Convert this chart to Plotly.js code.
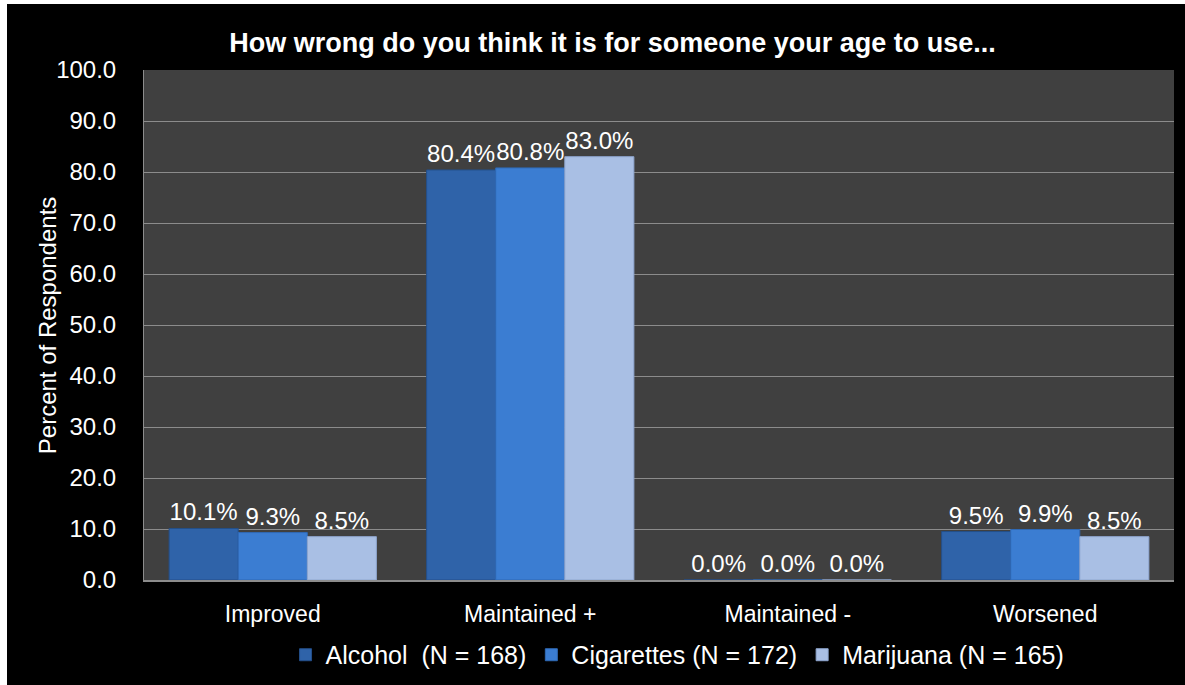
<!DOCTYPE html>
<html>
<head>
<meta charset="utf-8">
<script src="https://cdn.plot.ly/plotly-3.0.1.min.js"></script>
<style>
  html, body { margin: 0; padding: 0; background: #ffffff; width: 1185px; height: 685px; overflow: hidden; }
  #chart { position: absolute; left: 7px; top: 4px; width: 1178px; height: 681px; }
</style>
</head>
<body>
<div id="chart"></div>
<script>
const categories = ["Improved", "Maintained +", "Maintained -", "Worsened"];
const seriesNames = ["Alcohol  (N = 168)", "Cigarettes (N = 172)", "Marijuana (N = 165)"];
const alcohol = [10.1, 80.4, 0.0, 9.5];
const cigarettes = [9.3, 80.8, 0.0, 9.9];
const marijuana = [8.5, 83.0, 0.0, 8.5];
const colors = ["#2f63a9", "#3b7dd2", "#a9bfe4"];
const lineColors = ["#244f8a", "#2f69b5", "#8ea6cf"];

const font = "Liberation Sans, Arial, sans-serif";
const values = [alcohol, cigarettes, marijuana];

const traces = values.map((v, i) => ({
  type: "bar",
  name: seriesNames[i],
  x: categories,
  y: v,
  marker: { color: colors[i], line: { color: lineColors[i], width: 1 } },
  texttemplate: "%{y:.1f}%",
  textposition: "outside",
  constraintext: "none",
  cliponaxis: false,
  textfont: { family: font, size: 24, color: "#ffffff" },
  hoverinfo: "x+y+name"
}));

const layout = {
  width: 1178,
  height: 681,
  paper_bgcolor: "#000000",
  plot_bgcolor: "#404040",
  margin: { l: 137, r: 11, t: 66, b: 105, autoexpand: false },
  barmode: "group",
  bargap: 0.195,
  bargroupgap: 0,
  title: {
    text: "<b>How wrong do you think it is for someone your age to use...</b>",
    font: { family: font, size: 27, color: "#ffffff" },
    xref: "container",
    x: 0.514,
    xanchor: "center",
    yref: "container",
    y: 0.944,
    yanchor: "middle"
  },
  xaxis: {
    type: "category",
    automargin: false,
    tickfont: { family: font, size: 23, color: "#ffffff" },
    showgrid: false,
    showline: true,
    linecolor: "#8c8c8c",
    linewidth: 1.5,
    ticks: "",
    ticklabelstandoff: 13
  },
  yaxis: {
    range: [0, 100],
    dtick: 10,
    tickformat: ".1f",
    automargin: false,
    tickfont: { family: font, size: 24, color: "#ffffff" },
    showgrid: true,
    gridcolor: "#8c8c8c",
    gridwidth: 1,
    showline: true,
    linecolor: "#8c8c8c",
    linewidth: 1,
    zeroline: false,
    ticks: "",
    ticklabelstandoff: 22
  },
  annotations: [{
    text: "Percent of Respondents",
    xref: "paper", yref: "paper",
    x: -0.094, y: 0.5,
    xanchor: "center", yanchor: "middle",
    textangle: -90,
    showarrow: false,
    font: { family: font, size: 24, color: "#ffffff" }
  }],
  legend: {
    orientation: "h",
    x: 0.518,
    xanchor: "center",
    y: -0.147,
    yanchor: "middle",
    font: { family: font, size: 25, color: "#ffffff" },
    bgcolor: "rgba(0,0,0,0)",
    itemwidth: 30
  },
  showlegend: true
};

Plotly.newPlot("chart", traces, layout, { displayModeBar: false });
</script>
</body>
</html>
